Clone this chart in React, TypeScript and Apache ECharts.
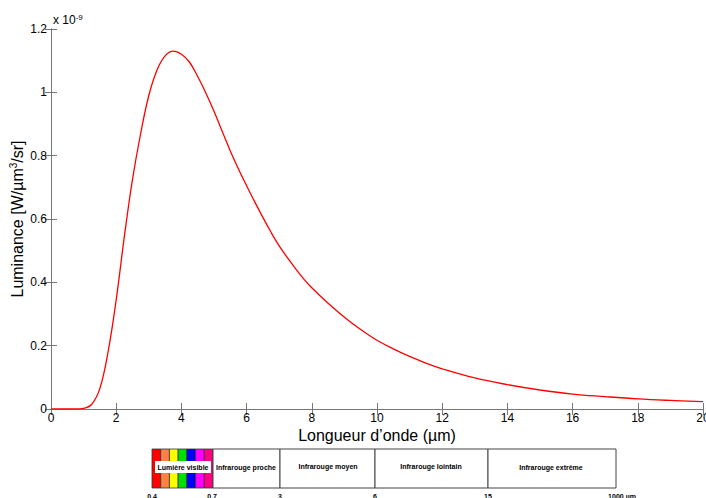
import React, { useEffect, useRef } from "react";
import * as echarts from "echarts";

// Wavelength (µm) and spectral radiance (×1e-9 W/µm³/sr)
const wavelengths = [
  0, 0.25, 0.5, 0.75, 1.0, 1.25, 1.5, 1.75, 2.0, 2.25, 2.5, 2.75, 3.0, 3.25, 3.5, 3.75, 4.0, 4.25, 4.5, 4.75,
  5.0, 5.25, 5.5, 5.75, 6.0, 6.25, 6.5, 6.75, 7.0, 7.25, 7.5, 7.75, 8.0, 8.5, 9.0, 9.5, 10.0, 10.5, 11.0, 11.5,
  12, 13, 14, 15, 16, 17, 18, 19, 20,
];
const radiance = [
  0, 0, 0, 0, 0.002, 0.015, 0.065, 0.18, 0.345, 0.545, 0.725, 0.87, 0.99, 1.07, 1.115, 1.13, 1.12, 1.095, 1.05, 0.998,
  0.94, 0.877, 0.815, 0.758, 0.705, 0.654, 0.605, 0.558, 0.515, 0.478, 0.443, 0.411, 0.383, 0.334, 0.29, 0.251, 0.217, 0.19, 0.166, 0.145,
  0.127, 0.098, 0.077, 0.06, 0.047, 0.039, 0.032, 0.027, 0.023,
];

const xTicks = [0, 2, 4, 6, 8, 10, 12, 14, 16, 18, 20];
const yTicks = [0, 0.2, 0.4, 0.6, 0.8, 1, 1.2];

// Spectrum band below the chart
const visibleColors = ["#ff0000", "#ff8040", "#ffff00", "#00e000", "#0000ff", "#ff00ff", "#ff0080"];
const bandNames = ["Lumière visible", "Infrarouge proche", "Infrarouge moyen", "Infrarouge lointain", "Infrarouge extrême"];
const bandBoundaryLabels = ["0.4", "0.7", "3", "6", "15", "1000 µm"];

const FONT = "Liberation Sans, Arial, sans-serif";

export default function App() {
  const ref = useRef<HTMLDivElement>(null);
  useEffect(() => {
    const chart = echarts.init(ref.current!, undefined, { renderer: "svg" });

    // band layout (pixel decoration)
    const bandLeft = 152, bandTop = 449, bandH = 39;
    const bounds = [152, 213, 280, 375, 488, 616];
    const stripeW = (bounds[1] - bounds[0]) / visibleColors.length;
    const graphics: any[] = [];
    visibleColors.forEach((c, i) => {
      graphics.push({
        type: "rect",
        shape: { x: bandLeft + i * stripeW, y: bandTop, width: stripeW, height: bandH },
        style: { fill: c, stroke: "#333", lineWidth: 0.8 },
      });
    });
    for (let i = 1; i < bounds.length - 1; i++) {
      graphics.push({
        type: "rect",
        shape: { x: bounds[i], y: bandTop, width: bounds[i + 1] - bounds[i], height: bandH },
        style: { fill: "#fff", stroke: "#444", lineWidth: 1 },
      });
    }
    graphics.push({
      type: "rect",
      shape: { x: 155, y: 461, width: 56, height: 12 },
      style: { fill: "#fff", stroke: "none" },
    });
    const nameCenters = [183, 246, 328, 431, 551];
    const nameYs = [467, 467, 466, 466, 467];
    bandNames.forEach((n, i) => {
      graphics.push({
        type: "text",
        x: nameCenters[i],
        y: nameYs[i],
        style: { text: n, fontSize: 7, fontWeight: "bold", fontFamily: FONT, fill: "#000", align: "center", verticalAlign: "middle" },
      });
    });
    const bLabelX = [152, 212, 280, 375, 488, 622];
    bandBoundaryLabels.forEach((t, i) => {
      graphics.push({
        type: "text",
        x: bLabelX[i],
        y: 496,
        style: { text: t, fontSize: 7, fontWeight: "bold", fontFamily: FONT, fill: "#000", align: "center", verticalAlign: "middle" },
      });
    });
    graphics.push({
      type: "text",
      x: 53,
      y: 20,
      style: {
        text: "x 10{s|-9}",
        rich: { s: { fontSize: 8, verticalAlign: "top", padding: [0, 0, 6, 0], fontFamily: FONT, fill: "#000" } },
        fontSize: 12,
        fontFamily: FONT,
        fill: "#000",
        verticalAlign: "middle",
      },
    });

    const axisLine = { show: true, lineStyle: { color: "#777", width: 1 } };
    const tickInside = { show: true, inside: true, length: 6, lineStyle: { color: "#777" } };

    chart.setOption({
      animation: false,
      backgroundColor: "#fff",
      grid: { left: 51, right: 3, top: 29, bottom: 89, containLabel: false, outerBoundsMode: "none" },
      xAxis: [
        {
          type: "value",
          min: 0,
          max: 20,
          interval: 2,
          position: "bottom",
          axisLine,
          axisTick: tickInside,
          splitLine: { show: false },
          axisLabel: { color: "#000", fontSize: 12, fontFamily: FONT, margin: 3, formatter: (v: number) => (xTicks.includes(v) ? String(v) : "") },
          name: "Longueur d’onde (µm)",
          nameLocation: "middle",
          nameGap: 18,
          nameMoveOverlap: false,
          nameTextStyle: { color: "#000", fontSize: 16, fontFamily: FONT },
        },
        {
          type: "value",
          min: 0,
          max: 20,
          interval: 2,
          position: "top",
          axisLine,
          axisTick: tickInside,
          splitLine: { show: false },
          axisLabel: { show: false },
        },
      ],
      yAxis: [
        {
          type: "value",
          min: 0,
          max: 1.2,
          interval: 0.2,
          position: "left",
          axisLine,
          axisTick: tickInside,
          splitLine: { show: false },
          axisLabel: {
            color: "#000",
            fontSize: 12,
            fontFamily: FONT,
            margin: 4,
            formatter: (v: number) => {
              const r = Math.round(v * 10) / 10;
              return yTicks.includes(r) ? String(r) : "";
            },
          },
          name: "Luminance [W/µm{s|3}/sr]",
          nameLocation: "middle",
          nameGap: 25,
          nameMoveOverlap: false,
          nameTextStyle: {
            color: "#000",
            fontSize: 16,
            fontFamily: FONT,
            rich: { s: { fontSize: 10, verticalAlign: "top", padding: [0, 0, 8, 0], color: "#000", fontFamily: FONT } },
          },
        },
        {
          type: "value",
          min: 0,
          max: 1.2,
          interval: 0.2,
          position: "right",
          axisLine,
          axisTick: tickInside,
          splitLine: { show: false },
          axisLabel: { show: false },
        },
      ],
      series: [
        {
          type: "line",
          data: wavelengths.map((x, i) => [x, radiance[i]]),
          smooth: 0.4,
          showSymbol: false,
          lineStyle: { color: "#ff0000", width: 1.3 },
          xAxisIndex: 0,
          yAxisIndex: 0,
        },
      ],
      graphic: graphics,
    });
    return () => chart.dispose();
  }, []);
  return <div ref={ref} style={{ position: "absolute", left: 0, top: 0, width: 706, height: 498 }} />;
}
